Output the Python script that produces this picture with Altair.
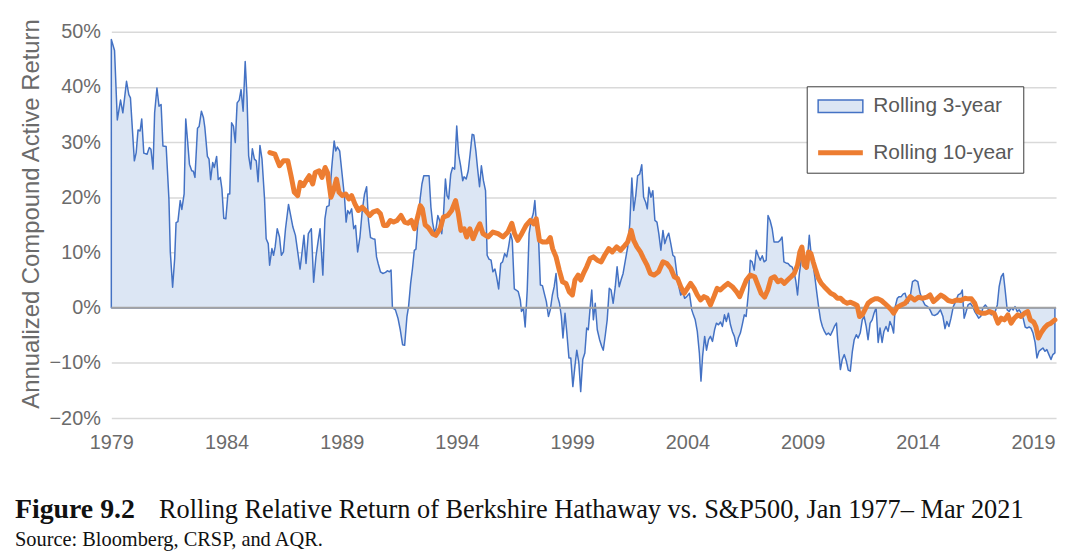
import altair as alt
import pandas as pd

# Rolling 3-year annualized compound active return (%)
rolling3 = [
    (1979.00, 48.6), (1979.14, 46.6), (1979.26, 34.0), (1979.40, 37.6), (1979.50, 35.3), (1979.66, 41.0),
    (1979.76, 38.6), (1979.83, 38.0), (1980.00, 26.6), (1980.08, 28.1), (1980.16, 32.2), (1980.25, 32.0),
    (1980.32, 34.2), (1980.41, 28.0), (1980.55, 27.8), (1980.65, 29.0), (1980.72, 28.7), (1980.81, 25.1),
    (1980.88, 35.3), (1980.98, 39.8), (1981.07, 36.5), (1981.16, 36.8), (1981.24, 29.3), (1981.38, 29.2),
    (1981.50, 19.7), (1981.56, 10.1), (1981.66, 3.7), (1981.75, 8.9), (1981.81, 15.4), (1981.89, 15.6),
    (1981.99, 19.4), (1982.06, 17.8), (1982.16, 20.6), (1982.23, 34.2), (1982.31, 30.2), (1982.39, 26.0),
    (1982.49, 24.8), (1982.56, 24.7), (1982.63, 23.6), (1982.74, 32.5), (1982.81, 32.8), (1982.91, 35.6),
    (1983.00, 34.4), (1983.06, 32.6), (1983.17, 27.4), (1983.24, 26.9), (1983.31, 23.2), (1983.40, 26.3),
    (1983.47, 25.4), (1983.57, 27.4), (1983.64, 23.2), (1983.73, 23.6), (1983.80, 21.5), (1983.88, 16.2),
    (1983.97, 16.1), (1984.06, 20.6), (1984.14, 20.6), (1984.22, 33.5), (1984.30, 32.9), (1984.38, 29.9),
    (1984.46, 37.1), (1984.55, 37.6), (1984.63, 39.5), (1984.72, 35.6), (1984.81, 44.6), (1984.89, 38.0),
    (1984.96, 27.5), (1985.05, 25.1), (1985.12, 28.8), (1985.21, 26.9), (1985.29, 26.6), (1985.37, 22.8),
    (1985.45, 29.4), (1985.54, 26.9), (1985.65, 19.7), (1985.72, 12.5), (1985.81, 11.6), (1985.87, 7.7),
    (1985.97, 10.7), (1986.04, 9.5), (1986.11, 11.0), (1986.20, 14.3), (1986.30, 12.8), (1986.38, 9.5),
    (1986.47, 10.1), (1986.56, 14.3), (1986.69, 18.7), (1986.77, 17.0), (1986.88, 14.6), (1986.99, 13.1),
    (1987.10, 9.8), (1987.19, 7.0), (1987.28, 10.1), (1987.36, 13.1), (1987.45, 8.0), (1987.55, 13.4),
    (1987.68, 14.3), (1987.78, 4.6), (1987.88, 9.2), (1987.98, 12.2), (1988.06, 14.3), (1988.18, 5.9),
    (1988.27, 16.1), (1988.35, 18.3), (1988.45, 18.5), (1988.56, 25.1), (1988.67, 30.2), (1988.74, 28.4),
    (1988.81, 29.1), (1988.91, 28.4), (1989.03, 23.6), (1989.12, 20.0), (1989.19, 15.5), (1989.26, 17.6),
    (1989.34, 17.0), (1989.43, 17.9), (1989.52, 14.3), (1989.60, 14.9), (1989.69, 10.1), (1989.79, 12.8),
    (1989.89, 17.6), (1989.99, 20.6), (1990.08, 21.9), (1990.16, 15.8), (1990.25, 12.7), (1990.35, 12.5),
    (1990.44, 12.4), (1990.51, 9.2), (1990.58, 8.0), (1990.68, 6.5), (1990.78, 6.2), (1990.90, 6.4),
    (1990.98, 6.7), (1991.07, 6.5), (1991.14, 6.8), (1991.20, 0.0), (1991.33, -0.4), (1991.44, -1.9),
    (1991.54, -4.0), (1991.64, -6.7), (1991.73, -6.8), (1991.83, -1.6), (1991.90, 0.2), (1991.99, 4.4),
    (1992.07, 7.1), (1992.15, 10.4), (1992.22, 10.6), (1992.31, 15.8), (1992.41, 20.0), (1992.48, 22.4),
    (1992.56, 23.9), (1992.69, 23.9), (1992.79, 23.9), (1992.87, 18.2), (1992.94, 15.5), (1993.02, 13.7),
    (1993.09, 14.3), (1993.17, 16.7), (1993.25, 15.8), (1993.34, 13.4), (1993.41, 16.4), (1993.50, 23.3),
    (1993.57, 20.3), (1993.64, 19.7), (1993.73, 24.2), (1993.81, 25.4), (1993.90, 25.1), (1993.99, 32.9),
    (1994.07, 27.8), (1994.16, 25.7), (1994.25, 23.0), (1994.31, 23.7), (1994.40, 23.3), (1994.49, 24.8),
    (1994.57, 27.8), (1994.66, 31.4), (1994.73, 31.3), (1994.82, 28.4), (1994.89, 25.4), (1994.98, 21.9),
    (1995.06, 25.7), (1995.15, 23.0), (1995.24, 21.2), (1995.31, 9.5), (1995.39, 8.8), (1995.48, 8.6),
    (1995.56, 6.5), (1995.65, 7.0), (1995.72, 5.6), (1995.81, 3.4), (1995.90, 8.0), (1995.98, 8.3),
    (1996.07, 9.8), (1996.16, 9.2), (1996.24, 11.0), (1996.33, 13.4), (1996.40, 12.2), (1996.49, 3.4),
    (1996.57, 3.2), (1996.66, 2.9), (1996.75, 1.4), (1996.80, -0.7), (1996.88, 0.0), (1996.96, -3.5),
    (1997.05, 3.2), (1997.13, 13.4), (1997.22, 15.8), (1997.31, 17.0), (1997.38, 19.4), (1997.46, 14.6),
    (1997.55, 11.6), (1997.62, 4.1), (1997.71, 4.0), (1997.79, 2.6), (1997.88, 1.1), (1997.97, -1.6),
    (1998.05, -0.4), (1998.14, 2.3), (1998.22, 3.8), (1998.30, 6.2), (1998.37, 2.0), (1998.45, 0.8),
    (1998.53, -1.6), (1998.60, -5.5), (1998.69, -1.0), (1998.77, -4.6), (1998.86, -9.1), (1998.94, -9.1),
    (1999.03, -14.3), (1999.12, -10.6), (1999.20, -7.7), (1999.29, -10.0), (1999.37, -15.2), (1999.46, -9.4),
    (1999.55, -8.2), (1999.63, -3.7), (1999.70, -4.0), (1999.78, 0.0), (1999.85, 3.2), (1999.92, -2.2),
    (2000.00, 0.8), (2000.09, -4.0), (2000.19, -5.8), (2000.28, -7.0), (2000.35, -7.7), (2000.44, -4.9),
    (2000.52, -2.2), (2000.61, 3.5), (2000.69, 3.2), (2000.78, 0.8), (2000.87, 3.8), (2000.95, 7.4),
    (2001.04, 3.8), (2001.12, 5.0), (2001.21, 6.2), (2001.31, 8.6), (2001.41, 11.0), (2001.50, 15.2),
    (2001.59, 23.5), (2001.67, 17.6), (2001.76, 20.3), (2001.84, 23.9), (2001.93, 24.2), (2002.02, 25.9),
    (2002.10, 20.0), (2002.19, 19.1), (2002.26, 17.9), (2002.33, 21.8), (2002.42, 20.0), (2002.50, 21.2),
    (2002.59, 15.8), (2002.68, 15.5), (2002.76, 13.4), (2002.85, 10.4), (2002.94, 14.0), (2003.02, 11.6),
    (2003.11, 12.8), (2003.19, 13.5), (2003.28, 11.6), (2003.37, 9.5), (2003.45, 9.2), (2003.54, 6.2),
    (2003.63, 3.8), (2003.71, 2.3), (2003.80, 2.9), (2003.88, 1.7), (2003.97, 2.0), (2004.09, 2.6),
    (2004.19, -0.4), (2004.26, -1.3), (2004.34, -2.2), (2004.43, -4.3), (2004.52, -8.2), (2004.59, -13.3),
    (2004.66, -8.8), (2004.75, -5.2), (2004.83, -7.7), (2004.92, -5.8), (2005.00, -5.2), (2005.09, -6.1),
    (2005.18, -4.0), (2005.26, -2.8), (2005.35, -3.1), (2005.44, -2.6), (2005.52, -3.4), (2005.61, -1.3),
    (2005.69, -2.5), (2005.78, -1.0), (2005.87, -3.1), (2005.95, -4.3), (2006.04, -5.2), (2006.13, -7.0),
    (2006.21, -5.5), (2006.30, -4.6), (2006.38, -3.1), (2006.47, -1.3), (2006.55, -1.6), (2006.66, 3.2),
    (2006.73, 8.6), (2006.81, 8.3), (2006.90, 6.8), (2006.99, 10.4), (2007.07, 9.5), (2007.16, 8.6),
    (2007.25, 9.4), (2007.33, 8.3), (2007.42, 8.6), (2007.50, 16.7), (2007.59, 15.8), (2007.68, 14.3),
    (2007.76, 11.9), (2007.85, 11.9), (2007.94, 11.9), (2008.02, 12.2), (2008.11, 12.8), (2008.19, 8.3),
    (2008.28, 8.1), (2008.37, 8.0), (2008.45, 7.6), (2008.54, 7.4), (2008.63, 6.5), (2008.71, 4.7),
    (2008.78, 2.3), (2008.86, 6.2), (2008.94, 8.6), (2009.03, 9.2), (2009.12, 7.1), (2009.20, 8.3),
    (2009.29, 13.1), (2009.36, 10.1), (2009.44, 8.3), (2009.53, 5.6), (2009.62, 2.6), (2009.70, 0.0),
    (2009.78, -2.2), (2009.86, -3.4), (2009.95, -4.3), (2010.03, -4.9), (2010.12, -4.6), (2010.21, -5.0),
    (2010.29, -4.3), (2010.38, -3.4), (2010.47, -2.8), (2010.53, -6.3), (2010.64, -11.2), (2010.72, -9.4),
    (2010.81, -8.5), (2010.90, -9.7), (2010.98, -11.3), (2011.07, -11.5), (2011.16, -7.9), (2011.24, -5.8),
    (2011.33, -4.9), (2011.41, -5.5), (2011.50, -4.6), (2011.59, -2.2), (2011.67, -1.6), (2011.76, -3.4),
    (2011.84, -5.8), (2011.93, -2.8), (2012.02, -2.2), (2012.10, -1.0), (2012.19, 0.0), (2012.28, -6.3),
    (2012.36, -3.7), (2012.45, -6.3), (2012.53, -4.3), (2012.62, -3.4), (2012.71, -4.3), (2012.79, -2.5),
    (2012.88, -3.4), (2012.95, -4.6), (2013.02, 0.2), (2013.11, 1.7), (2013.19, 2.0), (2013.28, 2.0),
    (2013.37, 2.5), (2013.45, 2.6), (2013.57, 0.8), (2013.67, 2.0), (2013.77, 4.7), (2013.88, 5.0),
    (2014.00, 4.7), (2014.10, 2.6), (2014.20, 1.4), (2014.31, 0.5), (2014.43, 0.2), (2014.53, -0.4),
    (2014.63, -1.3), (2014.74, -1.4), (2014.86, -1.1), (2014.98, -0.4), (2015.09, -1.6), (2015.18, -3.8),
    (2015.26, -2.5), (2015.35, -3.4), (2015.44, -1.9), (2015.54, 0.2), (2015.64, 1.1), (2015.75, 2.3),
    (2015.87, 2.6), (2015.93, 3.2), (2016.01, -1.9), (2016.10, -0.7), (2016.18, 0.5), (2016.28, 0.8),
    (2016.38, 0.2), (2016.47, -0.7), (2016.56, -1.3), (2016.64, -1.9), (2016.73, -1.6), (2016.83, 0.0),
    (2016.93, 0.5), (2017.02, 0.0), (2017.10, -0.7), (2017.19, -1.3), (2017.28, -1.0), (2017.36, -0.7),
    (2017.45, 0.5), (2017.53, 3.8), (2017.62, 5.6), (2017.71, 6.2), (2017.79, 3.2), (2017.88, -0.4),
    (2017.97, -0.7), (2018.05, 0.0), (2018.14, -0.4), (2018.22, 0.2), (2018.31, -0.7), (2018.40, -0.4),
    (2018.48, -1.0), (2018.57, -1.9), (2018.66, -3.5), (2018.74, -3.7), (2018.83, -3.5), (2018.91, -3.7),
    (2019.00, -4.6), (2019.09, -6.3), (2019.17, -9.1), (2019.26, -7.9), (2019.34, -7.6), (2019.43, -7.3),
    (2019.52, -7.9), (2019.60, -7.6), (2019.69, -8.5), (2019.78, -9.4), (2019.86, -8.5), (2019.95, -8.2),
]

# Rolling 10-year annualized compound active return (%)
rolling10 = [
    (1985.88, 28.1), (1986.10, 27.8), (1986.30, 25.7), (1986.47, 26.6), (1986.66, 26.6), (1986.80, 23.9),
    (1986.94, 20.9), (1987.09, 20.3), (1987.20, 22.7), (1987.33, 22.1), (1987.45, 23.0), (1987.59, 23.9),
    (1987.74, 22.4), (1987.85, 24.5), (1988.02, 24.8), (1988.14, 23.6), (1988.28, 25.4), (1988.38, 24.5),
    (1988.53, 20.0), (1988.64, 21.2), (1988.77, 23.3), (1988.88, 20.9), (1989.03, 20.3), (1989.17, 20.6),
    (1989.31, 19.7), (1989.43, 20.3), (1989.57, 18.8), (1989.72, 17.6), (1989.89, 18.2), (1990.03, 17.6),
    (1990.21, 16.7), (1990.35, 17.3), (1990.54, 17.6), (1990.68, 17.0), (1990.82, 14.9), (1990.97, 14.9),
    (1991.11, 15.8), (1991.25, 15.5), (1991.40, 15.8), (1991.57, 16.7), (1991.73, 15.5), (1991.87, 15.3),
    (1992.02, 15.8), (1992.16, 14.3), (1992.31, 16.7), (1992.41, 18.5), (1992.50, 17.9), (1992.62, 15.0),
    (1992.76, 14.5), (1992.94, 13.4), (1993.08, 13.1), (1993.27, 14.3), (1993.41, 16.4), (1993.60, 16.7),
    (1993.77, 17.6), (1993.94, 19.4), (1994.06, 17.0), (1994.17, 14.0), (1994.31, 14.3), (1994.42, 12.8),
    (1994.56, 14.3), (1994.70, 12.5), (1994.85, 14.0), (1994.99, 15.2), (1995.13, 13.4), (1995.35, 12.8),
    (1995.56, 13.7), (1995.78, 13.4), (1996.00, 12.8), (1996.21, 13.7), (1996.38, 15.3), (1996.50, 13.4),
    (1996.64, 12.2), (1996.81, 13.4), (1997.00, 14.9), (1997.19, 15.8), (1997.33, 15.2), (1997.44, 16.1),
    (1997.58, 12.2), (1997.72, 11.9), (1997.91, 11.9), (1998.05, 12.7), (1998.15, 10.7), (1998.30, 9.2),
    (1998.44, 6.8), (1998.58, 4.7), (1998.73, 4.4), (1998.87, 2.9), (1999.01, 2.3), (1999.12, 5.0),
    (1999.26, 5.9), (1999.37, 5.0), (1999.49, 6.2), (1999.63, 7.4), (1999.78, 8.9), (1999.92, 9.2),
    (2000.09, 8.6), (2000.26, 8.3), (2000.41, 9.5), (2000.59, 10.7), (2000.74, 10.1), (2000.93, 11.0),
    (2001.10, 10.4), (2001.27, 11.2), (2001.41, 11.9), (2001.56, 14.0), (2001.67, 12.2), (2001.81, 11.0),
    (2001.96, 10.1), (2002.10, 8.9), (2002.25, 7.7), (2002.39, 6.2), (2002.56, 5.9), (2002.75, 6.5),
    (2002.94, 8.3), (2003.11, 8.0), (2003.28, 7.1), (2003.43, 5.6), (2003.57, 5.3), (2003.71, 3.8),
    (2003.86, 2.6), (2004.00, 3.5), (2004.14, 4.4), (2004.29, 3.5), (2004.43, 2.3), (2004.57, 1.4),
    (2004.72, 2.0), (2004.86, 1.7), (2005.00, 0.5), (2005.15, 2.0), (2005.29, 3.5), (2005.43, 3.2),
    (2005.58, 3.8), (2005.76, 4.4), (2005.95, 3.8), (2006.13, 2.9), (2006.27, 2.0), (2006.41, 3.5),
    (2006.56, 5.0), (2006.73, 5.9), (2006.92, 5.6), (2007.06, 4.1), (2007.20, 2.6), (2007.35, 1.9),
    (2007.49, 3.2), (2007.63, 5.3), (2007.78, 5.6), (2007.93, 4.7), (2008.06, 5.0), (2008.21, 4.4),
    (2008.35, 5.0), (2008.50, 5.6), (2008.64, 6.2), (2008.78, 7.7), (2008.88, 10.1), (2008.97, 11.0),
    (2009.07, 7.7), (2009.17, 7.3), (2009.26, 10.1), (2009.36, 9.8), (2009.46, 8.3), (2009.57, 6.8),
    (2009.69, 5.3), (2009.81, 4.4), (2009.94, 3.8), (2010.08, 3.2), (2010.22, 2.6), (2010.37, 2.3),
    (2010.51, 1.7), (2010.65, 1.7), (2010.80, 1.1), (2010.94, 0.8), (2011.08, 1.0), (2011.23, 0.7),
    (2011.37, 0.4), (2011.47, -1.6), (2011.59, -1.3), (2011.70, -0.4), (2011.84, 0.8), (2011.99, 1.3),
    (2012.13, 1.6), (2012.28, 1.6), (2012.42, 1.3), (2012.56, 0.8), (2012.71, 0.2), (2012.85, -0.4),
    (2012.95, -1.0), (2013.09, 0.0), (2013.24, 0.4), (2013.45, 0.8), (2013.67, 2.0), (2013.86, 1.4),
    (2014.03, 1.9), (2014.20, 1.7), (2014.39, 1.9), (2014.53, 2.3), (2014.68, 1.1), (2014.82, 1.6),
    (2015.00, 2.3), (2015.15, 1.9), (2015.32, 1.3), (2015.50, 1.1), (2015.68, 1.4), (2015.87, 1.3),
    (2016.04, 1.7), (2016.19, 1.6), (2016.33, 1.6), (2016.47, 0.8), (2016.59, -0.7), (2016.76, -1.0),
    (2016.93, -1.0), (2017.12, -0.7), (2017.31, -1.0), (2017.48, -2.8), (2017.62, -1.9), (2017.76, -2.2),
    (2017.91, -1.3), (2018.05, -2.8), (2018.19, -1.9), (2018.34, -1.3), (2018.48, -1.6), (2018.63, -1.0),
    (2018.77, -0.7), (2018.88, -2.2), (2019.03, -2.6), (2019.13, -3.5), (2019.23, -5.5), (2019.34, -4.6),
    (2019.49, -3.7), (2019.63, -3.1), (2019.78, -2.8), (2019.95, -2.2),
]

series = ["Rolling 3-year", "Rolling 10-year"]
y_ticks = [-20, -10, 0, 10, 20, 30, 40, 50]
x_ticks = [1979, 1984, 1989, 1994, 1999, 2004, 2009, 2014, 2019]
zero_line = [0]
caption_bold = ["Figure 9.2"]
caption_text = ["Rolling Relative Return of Berkshire Hathaway vs. S&P500, Jan 1977\u2013 Mar 2021"]
source_text = ["Source: Bloomberg, CRSP, and AQR."]

# styles
FILLS = ["#dce6f4", "transparent"]
STROKES = ["#4472c4", "#ed7d31"]
WIDTHS = [1.5, 5]
SHAPES = ["M-1,-0.28H1V0.28H-1Z", "M-1,0H1"]
TXT = "#6b6b6b"
SANS = "Liberation Sans"
SERIF = "Liberation Serif"

df3 = pd.DataFrame(rolling3, columns=["year", "value"])
df3["series"] = series[0]
df10 = pd.DataFrame(rolling10, columns=["year", "value"])
df10["series"] = series[1]
dfz = pd.DataFrame({"value": zero_line})

W, H = 951, 389

x_enc = alt.X(
    "year:Q",
    scale=alt.Scale(domain=[1979, 2020], nice=False, zero=False),
    axis=alt.Axis(values=x_ticks, format="d", title=None, grid=False, domain=False,
                  ticks=False, labelPadding=15, labelFontSize=20, labelColor=TXT,
                  labelFont=SANS, labelFlush=False),
)
y_enc = alt.Y(
    "value:Q",
    scale=alt.Scale(domain=[-20, 50], nice=False),
    axis=alt.Axis(values=y_ticks,
                  labelExpr="(datum.value < 0 ? '\u2212' : '') + abs(datum.value) + '%'",
                  title="Annualized Compound Active Return", titleX=-80, titleY=183,
                  titleAngle=270, titleAlign="center", titleBaseline="middle",
                  titleFont=SANS, titleFontSize=24, titleFontWeight="normal", titleColor=TXT,
                  grid=True, gridColor="#d9d9d9", gridWidth=1.5, domain=False, ticks=False,
                  labelPadding=11, labelFontSize=20, labelColor=TXT, labelFont=SANS),
)

leg = alt.Legend(title=None)
fill_enc = alt.Fill("series:O", scale=alt.Scale(domain=series, range=FILLS), legend=leg)
stroke_enc = alt.Stroke("series:O", scale=alt.Scale(domain=series, range=STROKES), legend=leg)
sw_enc = alt.StrokeWidth("series:O", scale=alt.Scale(domain=series, range=WIDTHS), legend=leg)
shape_enc = alt.Shape("series:O", scale=alt.Scale(domain=series, range=SHAPES), legend=leg)

area = alt.Chart(df3).mark_area(opacity=1, strokeJoin="round").encode(
    x=x_enc, y=y_enc, fill=fill_enc, stroke=stroke_enc, strokeWidth=sw_enc
)
zero = alt.Chart(dfz).mark_rule(color="#a3a3a3", strokeWidth=2).encode(y="value:Q")
line10 = alt.Chart(df10).mark_line(strokeCap="round", strokeJoin="round").encode(
    x=x_enc, y=y_enc, stroke=stroke_enc, strokeWidth=sw_enc
)
shape_layer = alt.Chart(df10).transform_filter("false").mark_point().encode(
    x=x_enc, y=y_enc, shape=shape_enc
)

cap1 = alt.Chart(pd.DataFrame({"t": caption_bold})).mark_text(
    font=SERIF, fontSize=28, fontWeight="bold", color="#111111", align="left", baseline="alphabetic"
).encode(text="t:N", x=alt.value(-97), y=alt.value(490))
cap2 = alt.Chart(pd.DataFrame({"t": caption_text})).mark_text(
    font=SERIF, fontSize=26.5, color="#111111", align="left", baseline="alphabetic"
).encode(text="t:N", x=alt.value(48), y=alt.value(490))
cap3 = alt.Chart(pd.DataFrame({"t": source_text})).mark_text(
    font=SERIF, fontSize=20.5, color="#111111", align="left", baseline="alphabetic"
).encode(text="t:N", x=alt.value(-97), y=alt.value(518))

chart = alt.layer(area, zero, line10, shape_layer, cap1, cap2, cap3).properties(
    width=W, height=H,
    autosize=alt.AutoSizeParams(type="none"),
    padding={"left": 104, "top": 22, "right": 10, "bottom": 135},
).configure_view(stroke=None).configure_legend(
    orient="none", legendX=700, legendY=55, padding=9, strokeColor="#3a3a3a",
    fillColor="white", rowPadding=25, clipHeight=22, labelOffset=8, labelFontSize=21,
    labelFont=SANS, labelColor="#595959", symbolSize=2025, labelLimit=400,
)

chart.save("out.html", embed_options={"renderer": "svg", "actions": False})
